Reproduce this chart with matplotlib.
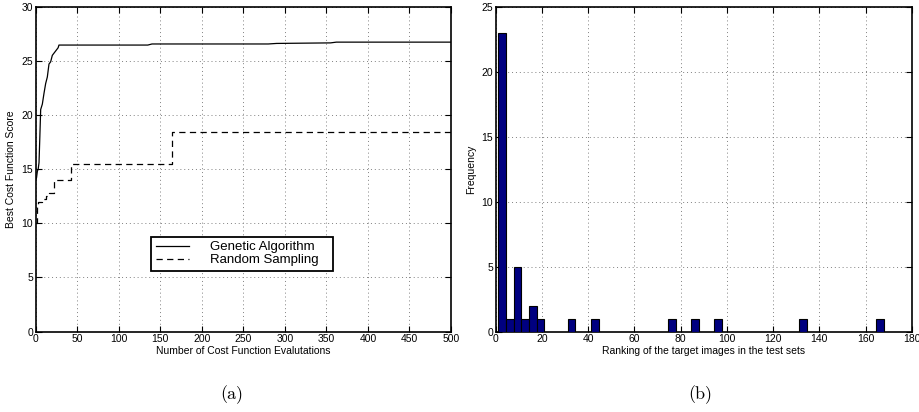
import numpy as np
import matplotlib
matplotlib.use('Agg')
import matplotlib.pyplot as plt

plt.rcParams['font.family'] = ['Liberation Sans', 'DejaVu Sans']

# (a) best cost function score vs number of evaluations
ga_evals = [0, 1, 2, 3, 4, 5, 6, 8, 10, 12, 14, 16, 18, 20, 22, 25, 27, 28, 135, 140, 280, 290, 355, 362, 500]
ga_score = [14.0, 14.2, 14.8, 15.0, 15.6, 18.0, 20.5, 21.0, 22.0, 22.9, 23.5, 24.7, 24.9, 25.5, 25.7, 26.0, 26.2, 26.45, 26.45, 26.55, 26.55, 26.6, 26.65, 26.72, 26.72]
rs_evals = [0, 1, 2, 3, 8, 12, 16, 22.5, 43, 164, 500]
rs_score = [10.0, 10.6, 11.8, 12.0, 12.2, 12.5, 12.8, 14.0, 15.5, 18.4, 18.4]

# (b) histogram of ranking of target images
rank_min, rank_max, n_bins = 1, 168, 50
bin_index = [0, 1, 2, 3, 4, 5, 9, 12, 22, 25, 28, 39, 49]
bin_count = [23, 1, 5, 1, 2, 1, 1, 1, 1, 1, 1, 1, 1]


def style_axes(ax):
    ax.grid(True, linestyle=(0, (1, 3)), color='#808080', linewidth=0.7)
    ax.tick_params(direction='in', length=4, width=0.8, labelsize=7.5,
                   top=True, right=True, pad=2)
    for s in ax.spines.values():
        s.set_linewidth(1.2)


fig = plt.figure(figsize=(9.2, 4.12), dpi=100)

ax1 = fig.add_axes([0.0388, 0.195, 0.4514, 0.789])
ax1.plot(ga_evals, ga_score, '-', color='black', linewidth=0.9, label='Genetic Algorithm')
ax1.plot(rs_evals, rs_score, '--', color='black', linewidth=0.9, drawstyle='steps-post',
         dashes=(5, 3.5), label='Random Sampling')
ax1.set_xlim(0, 500)
ax1.set_ylim(0, 30)
ax1.set_xticks(np.arange(0, 501, 50))
ax1.set_yticks(np.arange(0, 31, 5))
ax1.set_xlabel('Number of Cost Function Evalutations', fontsize=7.5, labelpad=1)
ax1.set_ylabel('Best Cost Function Score', fontsize=7.5, labelpad=4)
style_axes(ax1)
leg = ax1.legend(loc='lower left', bbox_to_anchor=(0.278, 0.187, 0.438, 0.113), mode='expand',
                 fontsize=9.5, fancybox=False, framealpha=1, edgecolor='black',
                 handlelength=2.5, handletextpad=1.6, borderpad=0.35, labelspacing=0.05,
                 borderaxespad=0)
leg.get_frame().set_linewidth(1.3)

ax2 = fig.add_axes([0.539, 0.195, 0.452, 0.789])
edges = np.linspace(rank_min, rank_max, n_bins + 1)
width = edges[1] - edges[0]
ax2.bar(edges[bin_index], bin_count, width=width, align='edge',
        color='#000080', edgecolor='black', linewidth=0.8, zorder=3)
ax2.set_xlim(0, 180)
ax2.set_ylim(0, 25)
ax2.set_xticks(np.arange(0, 181, 20))
ax2.set_yticks(np.arange(0, 26, 5))
ax2.set_xlabel('Ranking of the target images in the test sets', fontsize=7.5, labelpad=1)
ax2.set_ylabel('Frequency', fontsize=7.5, labelpad=4)
style_axes(ax2)

fig.text(232 / 920, 1 - 395 / 412, '(a)', family='cmr10', fontsize=13, ha='center', va='center')
fig.text(700 / 920, 1 - 395 / 412, '(b)', family='cmr10', fontsize=13, ha='center', va='center')

fig.savefig('out.png', dpi=100)
